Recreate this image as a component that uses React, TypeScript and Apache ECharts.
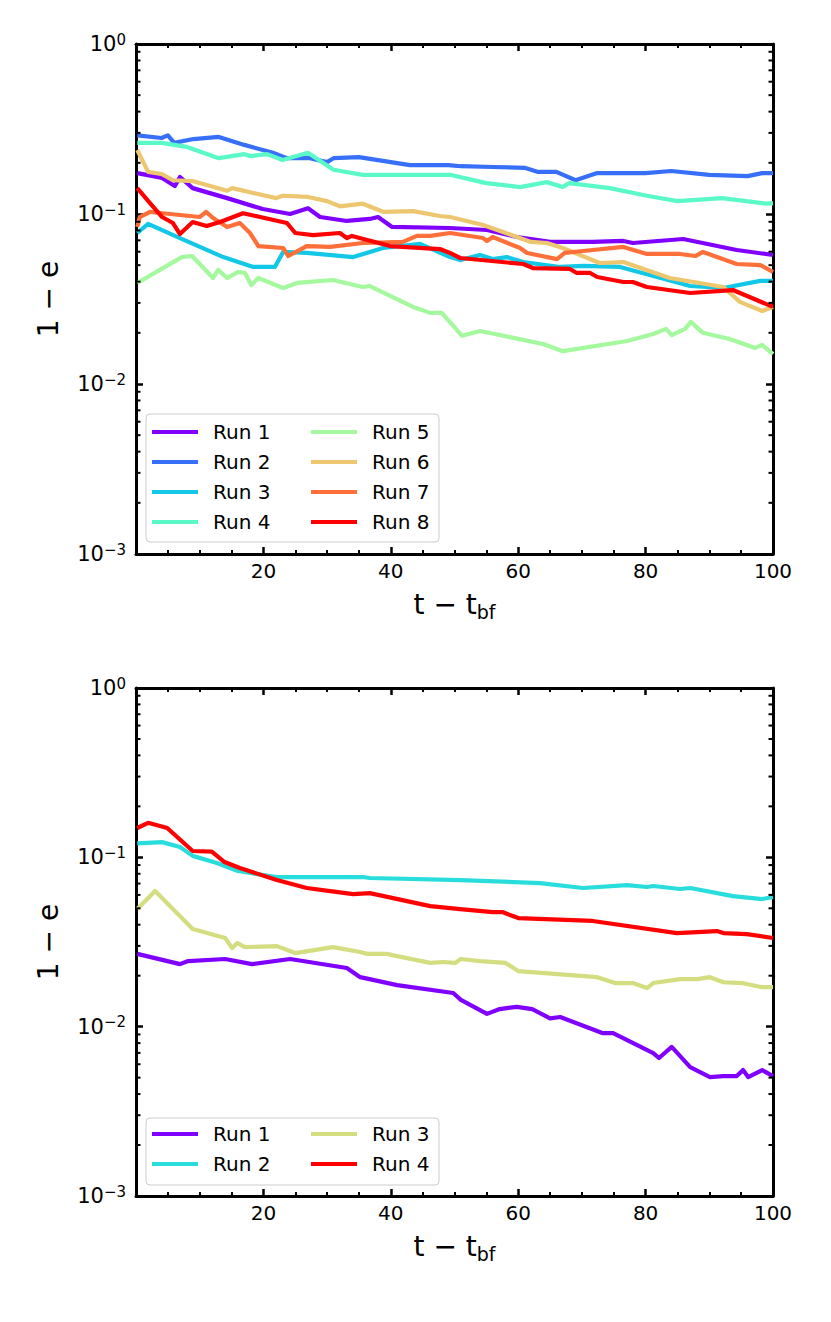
import React, { useEffect, useRef } from 'react';
import * as echarts from 'echarts';

const FONT = '"DejaVu Sans", "Liberation Sans", sans-serif';

// ---------- top panel data: [t - t_bf, 1 - e] ----------
const topNames = ['Run 1', 'Run 2', 'Run 3', 'Run 4', 'Run 5', 'Run 6', 'Run 7', 'Run 8'];
const topColors = ['#8000ff', '#376ff9', '#12c8e6', '#5bf9c7', '#a4f99f', '#edc76f', '#ff6f39', '#ff0000'];

const run1Top = [[0.2, 0.174], [4.1, 0.163], [6.1, 0.146], [6.9, 0.165], [8.9, 0.142], [14.3, 0.124], [19.9, 0.107], [24.2, 0.1], [27, 0.108], [28.9, 0.096], [33.1, 0.091], [36.7, 0.0935], [38, 0.096], [40.2, 0.0839], [49.3, 0.0827], [55.1, 0.0805], [59.8, 0.0732], [65, 0.0685], [71.7, 0.0685], [76.5, 0.0694], [78, 0.0675], [85.9, 0.0713], [94.3, 0.0614], [100, 0.0574]];
const run2Top = [[0.2, 0.29], [4, 0.28], [5, 0.29], [6, 0.262], [9, 0.276], [13, 0.284], [17, 0.255], [21.5, 0.229], [23.7, 0.213], [27.3, 0.213], [30, 0.202], [31, 0.213], [35, 0.216], [43, 0.194], [49, 0.194], [51, 0.191], [56, 0.189], [61, 0.187], [63, 0.177], [66, 0.177], [69, 0.158], [72.4, 0.174], [80, 0.174], [84, 0.179], [90, 0.17], [96, 0.167], [98.3, 0.174], [100, 0.174]];
const run3Top = [[0.2, 0.0773], [1.9, 0.0874], [6.9, 0.0722], [13.7, 0.0558], [18.4, 0.0488], [21.8, 0.0488], [23.1, 0.0598], [26.8, 0.059], [34.1, 0.0558], [38.8, 0.0631], [44.6, 0.0667], [49.3, 0.0558], [50.9, 0.0536], [54, 0.0574], [56, 0.0543], [58.2, 0.0558], [60.8, 0.0522], [66.6, 0.0488], [70.2, 0.0495], [76, 0.0488], [81.8, 0.0426], [87, 0.0377], [92.2, 0.0367], [98, 0.0404], [100, 0.0404]];
const run4Top = [[0.2, 0.262], [4, 0.262], [8, 0.248], [13, 0.213], [17, 0.225], [18, 0.219], [20.6, 0.225], [23, 0.208], [27, 0.229], [31, 0.182], [35.6, 0.17], [41, 0.17], [49.3, 0.17], [55, 0.152], [60.3, 0.144], [64.5, 0.154], [67, 0.144], [68, 0.152], [74.4, 0.142], [80.2, 0.128], [85, 0.119], [92, 0.124], [99, 0.115], [100, 0.116]];
const run5Top = [[0.2, 0.0393], [7.2, 0.0558], [8.8, 0.0566], [12.1, 0.042], [12.9, 0.0469], [14.3, 0.042], [16, 0.0456], [17.1, 0.045], [18.1, 0.0382], [19.2, 0.042], [23.1, 0.0367], [25.3, 0.0393], [30.9, 0.0409], [35.6, 0.0372], [36.7, 0.0377], [43.5, 0.0284], [46.2, 0.0262], [48, 0.0262], [51.2, 0.0192], [54, 0.0205], [63.9, 0.0172], [67, 0.0156], [77.1, 0.0179], [81.2, 0.0197], [83.2, 0.0211], [84.1, 0.0194], [86.2, 0.0211], [87.1, 0.0232], [89, 0.02], [93.2, 0.0184], [97.2, 0.0163], [98.3, 0.017], [100, 0.015]];
const run6Top = [[0.2, 0.238], [1.9, 0.177], [4, 0.172], [5.8, 0.158], [9, 0.156], [14.3, 0.137], [15.1, 0.142], [22, 0.124], [23, 0.128], [27, 0.126], [30, 0.119], [32, 0.111], [35.6, 0.115], [38.8, 0.103], [43.5, 0.104], [47.7, 0.0973], [49.3, 0.096], [54.5, 0.0862], [62, 0.0685], [64.5, 0.0675], [67, 0.0631], [72.8, 0.0515], [76.5, 0.0522], [83.8, 0.042], [92.2, 0.0372], [94.8, 0.0304], [98.3, 0.0269], [100, 0.0284]];
const run7Top = [[0.2, 0.0839], [0.6, 0.096], [2.2, 0.103], [4.2, 0.101], [10, 0.096], [11, 0.103], [12.1, 0.0947], [14.3, 0.0839], [16.3, 0.0885], [17.9, 0.0773], [19.2, 0.0648], [23.1, 0.0631], [23.9, 0.0566], [26.8, 0.0648], [30.5, 0.064], [35.6, 0.0675], [41.9, 0.0685], [44.1, 0.0743], [46.2, 0.0743], [49.3, 0.0773], [54.5, 0.0722], [55.1, 0.0694], [56, 0.0732], [60.3, 0.0631], [61.4, 0.059], [66.1, 0.0543], [67.3, 0.059], [70.2, 0.0606], [76.5, 0.064], [80.2, 0.0582], [85.4, 0.0582], [87.8, 0.0566], [89, 0.0598], [94.3, 0.0508], [98, 0.0501], [100, 0.0456]];
const run8Top = [[0.2, 0.142], [2.2, 0.116], [4.1, 0.096], [5.8, 0.0885], [6.9, 0.0762], [8.9, 0.0897], [11.1, 0.085], [13.2, 0.0897], [16.8, 0.101], [23.7, 0.0885], [25, 0.0773], [27.8, 0.0752], [32, 0.0773], [33.1, 0.0722], [33.9, 0.0743], [39.9, 0.0648], [47.7, 0.0622], [49.3, 0.059], [50.9, 0.0551], [60.8, 0.0508], [62.3, 0.0481], [68.1, 0.0475], [69.2, 0.045], [71.3, 0.045], [72.4, 0.0426], [76.5, 0.0398], [78, 0.0398], [80.2, 0.0372], [87, 0.0343], [93.7, 0.0357], [100, 0.0284]];

// ---------- bottom panel data ----------
const botNames = ['Run 1', 'Run 2', 'Run 3', 'Run 4'];
const botColors = ['#8000ff', '#2adddd', '#d4dd80', '#ff0000'];

const run1Bot = [[0.2, 0.0269], [6.9, 0.0234], [8.2, 0.0244], [14, 0.0251], [18.2, 0.0234], [24.2, 0.0251], [33.1, 0.0222], [35.2, 0.0196], [41, 0.0176], [49.8, 0.0158], [51, 0.0144], [55.1, 0.0119], [57.1, 0.0127], [59.8, 0.0131], [62.2, 0.0127], [65, 0.0112], [66.6, 0.0114], [73.2, 0.00917], [74.9, 0.00917], [81.2, 0.00698], [82.1, 0.00653], [84.1, 0.00759], [87, 0.00577], [90.1, 0.00504], [92.2, 0.00511], [94.3, 0.00511], [95.3, 0.00554], [96.1, 0.00504], [98.3, 0.00554], [100, 0.00511]];
const run2Bot = [[0.2, 0.121], [4.1, 0.123], [6.9, 0.115], [8.9, 0.102], [12.7, 0.0925], [16, 0.083], [22.1, 0.0765], [35.6, 0.0765], [36.7, 0.0755], [50.9, 0.0734], [63.4, 0.0705], [70.2, 0.0659], [77.1, 0.0686], [80.2, 0.0668], [81.2, 0.0677], [85.4, 0.065], [87, 0.0659], [93.7, 0.059], [98.3, 0.0567], [100, 0.0583]];
const run3Bot = [[0.2, 0.0495], [3, 0.0632], [8.9, 0.0377], [14, 0.0334], [15.1, 0.0291], [15.9, 0.0312], [17.1, 0.0295], [22.1, 0.0299], [25, 0.0272], [30.9, 0.0295], [35.2, 0.0276], [36.3, 0.0269], [39.4, 0.0269], [41, 0.0261], [46.2, 0.0238], [48.2, 0.0241], [50.1, 0.0238], [51, 0.0251], [54, 0.0244], [58, 0.0238], [60, 0.0213], [72.4, 0.0196], [75.2, 0.0181], [78, 0.0181], [80.2, 0.0169], [81.2, 0.0181], [85.4, 0.0191], [88.1, 0.0191], [90.1, 0.0196], [92.2, 0.0183], [95.1, 0.0181], [98.3, 0.0171], [100, 0.0171]];
const run4Bot = [[0.2, 0.149], [1.9, 0.16], [4.9, 0.149], [8.9, 0.109], [11.9, 0.108], [13.9, 0.0938], [16.3, 0.0865], [22.1, 0.0734], [26.8, 0.0659], [30.5, 0.0632], [34.1, 0.0607], [36.7, 0.0615], [46.2, 0.0515], [50.9, 0.0495], [56, 0.0475], [57.5, 0.0475], [60, 0.0438], [71.7, 0.0421], [84.9, 0.0357], [91.2, 0.0367], [92.2, 0.0357], [95.9, 0.0352], [100, 0.0334]];

// ---------- axes ----------
const xTicks = [0, 20, 40, 60, 80, 100];
const yDecades = [0.001, 0.01, 0.1, 1];
const logMinorTicks = [0.002, 0.003, 0.004, 0.005, 0.006, 0.007, 0.008, 0.009, 0.02, 0.03, 0.04, 0.05, 0.06, 0.07, 0.08, 0.09, 0.2, 0.3, 0.4, 0.5, 0.6, 0.7, 0.8, 0.9];

const topData = [run1Top, run2Top, run3Top, run4Top, run5Top, run6Top, run7Top, run8Top];
const botData = [run1Bot, run2Bot, run3Bot, run4Bot];

function supLabel(v: number) {
  const e = Math.round(Math.log10(v));
  const s = e < 0 ? '\u2212' + String(-e) : String(e);
  return '{b|10}{s|' + s + '}';
}

function makeX(grid: number, pos: 'bottom' | 'top') {
  return {
    type: 'value',
    gridIndex: grid,
    position: pos,
    min: xTicks[0],
    max: xTicks[xTicks.length - 1],
    interval: 20,
    axisLine: { show: true, onZero: false, lineStyle: { color: '#000', width: 3 } },
    axisTick: { show: true, inside: true, length: 7, lineStyle: { color: '#000', width: 2.5 } },
    minorTick: { show: true, splitNumber: 4, length: 4, lineStyle: { color: '#000', width: 2 } },
    splitLine: { show: false },
    minorSplitLine: { show: false },
    axisLabel: {
      show: pos === 'bottom',
      margin: 7,
      fontSize: 20,
      fontFamily: FONT,
      color: '#000',
      formatter: (v: number) => (v === 0 ? '' : String(v)),
    },
    name: pos === 'bottom' ? '{a|t \u2212 t}{b|bf}' : '',
    nameLocation: 'middle',
    nameGap: 33,
    nameTextStyle: {
      rich: {
        a: { fontSize: 28, fontFamily: FONT, color: '#000', lineHeight: 34 },
        b: { fontSize: 19, fontFamily: FONT, color: '#000', lineHeight: 19, verticalAlign: 'bottom' },
      },
    },
  };
}

function makeY(grid: number, pos: 'left' | 'right') {
  return {
    type: 'log',
    logBase: 10,
    gridIndex: grid,
    position: pos,
    min: yDecades[0],
    max: yDecades[yDecades.length - 1],
    axisLine: { show: true, onZero: false, lineStyle: { color: '#000', width: 3 } },
    axisTick: { show: true, inside: true, length: 7, lineStyle: { color: '#000', width: 2.5 } },
    minorTick: { show: false },
    splitLine: { show: false },
    minorSplitLine: { show: false },
    axisLabel: {
      show: pos === 'left',
      margin: 10,
      formatter: supLabel,
      rich: {
        b: { fontSize: 21, fontFamily: FONT, color: '#000', lineHeight: 24 },
        s: { fontSize: 15, fontFamily: FONT, color: '#000', lineHeight: 16, verticalAlign: 'top' },
      },
    },
    name: pos === 'left' ? '1 \u2212 e' : '',
    nameLocation: 'middle',
    nameRotate: 90,
    nameGap: 71,
    nameTextStyle: { fontSize: 28, fontFamily: FONT, color: '#000', lineHeight: 34 },
  };
}

function minorTickSeries(axisIndex: number) {
  return {
    type: 'custom',
    xAxisIndex: axisIndex * 2,
    yAxisIndex: axisIndex * 2,
    silent: true,
    clip: false,
    z: 5,
    data: logMinorTicks.map((v) => [xTicks[0], v]),
    renderItem: (_p: any, api: any) => {
      const v = api.value(1);
      const l = api.coord([xTicks[0], v]);
      const r = api.coord([xTicks[xTicks.length - 1], v]);
      const st = { stroke: '#000', lineWidth: 2 };
      return {
        type: 'group',
        children: [
          { type: 'line', shape: { x1: l[0], y1: l[1], x2: l[0] + 4.5, y2: l[1] }, style: st },
          { type: 'line', shape: { x1: r[0], y1: r[1], x2: r[0] - 4.5, y2: r[1] }, style: st },
        ],
      };
    },
  };
}

function lineSeries(name: string, data: number[][], color: string, axisIndex: number) {
  return {
    type: 'line',
    name,
    data,
    xAxisIndex: axisIndex * 2,
    yAxisIndex: axisIndex * 2,
    showSymbol: false,
    symbol: 'none',
    lineStyle: { width: 4.2, color, join: 'round' },
    itemStyle: { color },
    emphasis: { disabled: true },
    z: 2,
  };
}

function legendBlock(names: string[], colors: string[], left: number, top: number) {
  return {
    data: names.map((n, i) => ({ name: n, itemStyle: { color: colors[i], borderWidth: 0 } })),
    left,
    top,
    orient: 'vertical',
    icon: 'rect',
    itemWidth: 46,
    itemHeight: 4,
    itemGap: 6,
    padding: 0,
    selectedMode: false,
    z: 6,
    textStyle: { fontSize: 20, fontFamily: FONT, color: '#000', lineHeight: 24, padding: [0, 0, 0, 10] },
  };
}

export default function App() {
  const ref = useRef<HTMLDivElement>(null);
  useEffect(() => {
    document.body.style.margin = '0';
    if (!ref.current) return;
    const chart = echarts.init(ref.current, null, { renderer: 'svg' });
    const series: any[] = [];
    topNames.forEach((n, i) => series.push(lineSeries(n, topData[i], topColors[i], 0)));
    botNames.forEach((n, i) => series.push(lineSeries(n, botData[i], botColors[i], 1)));
    series.push(minorTickSeries(0));
    series.push(minorTickSeries(1));

    chart.setOption({
      animation: false,
      backgroundColor: '#fff',
      grid: [
        { left: 136, top: 44, width: 637, height: 510, containLabel: false },
        { left: 136, top: 688, width: 637, height: 508, containLabel: false },
      ],
      xAxis: [makeX(0, 'bottom'), makeX(0, 'top'), makeX(1, 'bottom'), makeX(1, 'top')],
      yAxis: [makeY(0, 'left'), makeY(0, 'right'), makeY(1, 'left'), makeY(1, 'right')],
      legend: [
        legendBlock(topNames.slice(0, 4), topColors.slice(0, 4), 152, 420),
        legendBlock(topNames.slice(4), topColors.slice(4), 311, 420),
        legendBlock(botNames.slice(0, 2), botColors.slice(0, 2), 152, 1122),
        legendBlock(botNames.slice(2), botColors.slice(2), 311, 1122),
      ],
      graphic: [
        { type: 'rect', z: 5, shape: { x: 146, y: 414, width: 293, height: 128, r: 4 }, style: { fill: 'rgba(255,255,255,0.8)', stroke: '#cccccc', lineWidth: 1 } },
        { type: 'rect', z: 5, shape: { x: 146, y: 1118, width: 293, height: 67, r: 4 }, style: { fill: 'rgba(255,255,255,0.8)', stroke: '#cccccc', lineWidth: 1 } },
      ],
      series,
    });
    return () => chart.dispose();
  }, []);
  return <div ref={ref} style={{ width: 831, height: 1322 }} />;
}
